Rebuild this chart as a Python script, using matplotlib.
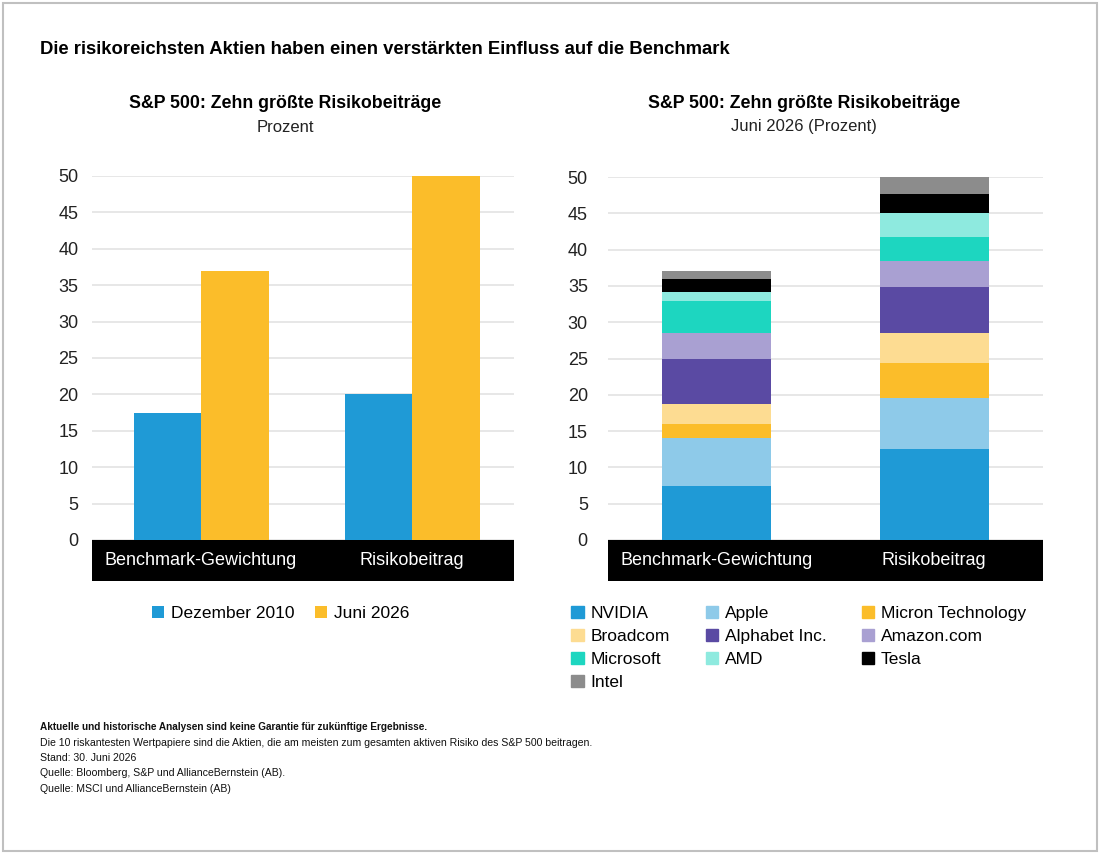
import matplotlib.pyplot as plt
from matplotlib.patches import Rectangle, Patch
import numpy as np

plt.rcParams['font.family'] = ['Liberation Sans', 'DejaVu Sans']

# data
categories = ['Benchmark-Gewichtung', 'Risikobeitrag']
series_left = ['Dezember 2010', 'Juni 2026']
dez_2010 = [17.5, 20.1]
jun_2026 = [37.0, 50.0]

stocks = ['NVIDIA', 'Apple', 'Micron Technology', 'Broadcom', 'Alphabet Inc.',
          'Amazon.com', 'Microsoft', 'AMD', 'Tesla', 'Intel']
bench_weight = [7.4, 6.6, 2.0, 2.8, 6.1, 3.6, 4.4, 1.2, 1.9, 1.0]
risk_contrib = [12.5, 7.0, 4.9, 4.1, 6.4, 3.5, 3.4, 3.3, 2.6, 2.3]
stock_colors = ['#1f9ad6', '#8ecae9', '#fbbd2a', '#fddc92', '#5a4aa3',
                '#a9a0d2', '#1dd6c0', '#8eeadf', '#000000', '#8c8c8c']

yticks = [0, 5, 10, 15, 20, 25, 30, 35, 40, 45, 50]

W, H = 1101, 856
fig = plt.figure(figsize=(W / 100, H / 100), dpi=100)

def box(x0, y0, x1, y1):
    # pixel box (from top-left) -> figure fraction rect
    return [x0 / W, 1 - y1 / H, (x1 - x0) / W, (y1 - y0) / H]

def style_axis(ax, pad, xlim):
    ax.set_ylim(0, 50)
    ax.set_xlim(*xlim)
    ax.set_yticks(yticks)
    ax.set_yticklabels([str(v) for v in yticks])
    ax.tick_params(axis='y', length=0, pad=pad, labelsize=13, colors='#222222')
    ax.set_xticks([])
    for s in ax.spines.values():
        s.set_visible(False)
    ax.grid(axis='y', color='#e0e0e0', linewidth=1.1)
    ax.set_axisbelow(True)
    # black category band below the axis
    band = Rectangle((0, -41 / 364), 1, 41 / 364, transform=ax.transAxes,
                     facecolor='black', clip_on=False)
    ax.add_patch(band)
    for i, c in enumerate(categories):
        ax.text(i, -20.5 / 364, c, transform=ax.get_xaxis_transform(),
                ha='center', va='center', color='white', fontsize=13)

leg_kw = dict(frameon=False, fontsize=12.5, handlelength=0.7, handleheight=0.7,
              handletextpad=0.4, borderpad=0)

# left chart
ax1 = fig.add_axes(box(92, 176, 514, 540))
x = np.arange(len(categories))
bw = 0.32
ax1.bar(x - bw / 2, dez_2010, bw, color='#1f9ad6', label=series_left[0])
ax1.bar(x + bw / 2, jun_2026, bw, color='#fbbd2a', label=series_left[1])
style_axis(ax1, 9.7, (-0.517, 1.483))
ax1.legend(loc='upper center', bbox_to_anchor=(0.447, -0.157), ncol=2,
           columnspacing=1.2, **leg_kw)

# right chart
ax2 = fig.add_axes(box(608, 177, 1043, 540))
bottom = np.zeros(len(categories))
handles = []
for name, b, r, col in zip(stocks, bench_weight, risk_contrib, stock_colors):
    vals = np.array([b, r])
    ax2.bar(x, vals, 0.5, bottom=bottom, color=col, label=name)
    bottom += vals
    handles.append(Patch(color=col, label=name))
style_axis(ax2, 14.5, (-0.5, 1.5))
order = [0, 3, 6, 9, 1, 4, 7, 2, 5, 8]
ax2.legend([handles[i] for i in order], [stocks[i] for i in order],
           loc='upper left', bbox_to_anchor=(-0.104, -0.158), ncol=3,
           columnspacing=2.05, labelspacing=0.45, **leg_kw)

# titles
fig.text(40 / W, 1 - 50 / H, 'Die risikoreichsten Aktien haben einen verstärkten Einfluss auf die Benchmark',
         fontsize=13.3, fontweight='bold', va='center', ha='left')
fig.text(285 / W, 1 - 103 / H, 'S&P 500: Zehn größte Risikobeiträge',
         fontsize=12.8, fontweight='bold', va='center', ha='center')
fig.text(285 / W, 1 - 127 / H, 'Prozent', fontsize=12, va='center', ha='center', color='#222222')
fig.text(804 / W, 1 - 103 / H, 'S&P 500: Zehn größte Risikobeiträge',
         fontsize=12.8, fontweight='bold', va='center', ha='center')
fig.text(804 / W, 1 - 127 / H, 'Juni 2026 (Prozent)', fontsize=12, va='center', ha='center', color='#222222')

notes = ['Aktuelle und historische Analysen sind keine Garantie für zukünftige Ergebnisse.',
         'Die 10 riskantesten Wertpapiere sind die Aktien, die am meisten zum gesamten aktiven Risiko des S&P 500 beitragen.',
         'Stand: 30. Juni 2026',
         'Quelle: Bloomberg, S&P und AllianceBernstein (AB).',
         'Quelle: MSCI und AllianceBernstein (AB)']
for i, n in enumerate(notes):
    fig.text(40 / W, 1 - (727 + i * 15.5) / H, n, fontsize=7.2 if i == 0 else 7.6,
             va='center', ha='left', fontweight='bold' if i == 0 else 'normal',
             color='#111111')

# light frame around the graphic
fig.add_artist(Rectangle((3 / W, 1 - 851 / H), 1094 / W, 848 / H, transform=fig.transFigure,
                         fill=False, edgecolor='#c0c0c0', linewidth=1.5))

fig.savefig('out.png', dpi=100)
